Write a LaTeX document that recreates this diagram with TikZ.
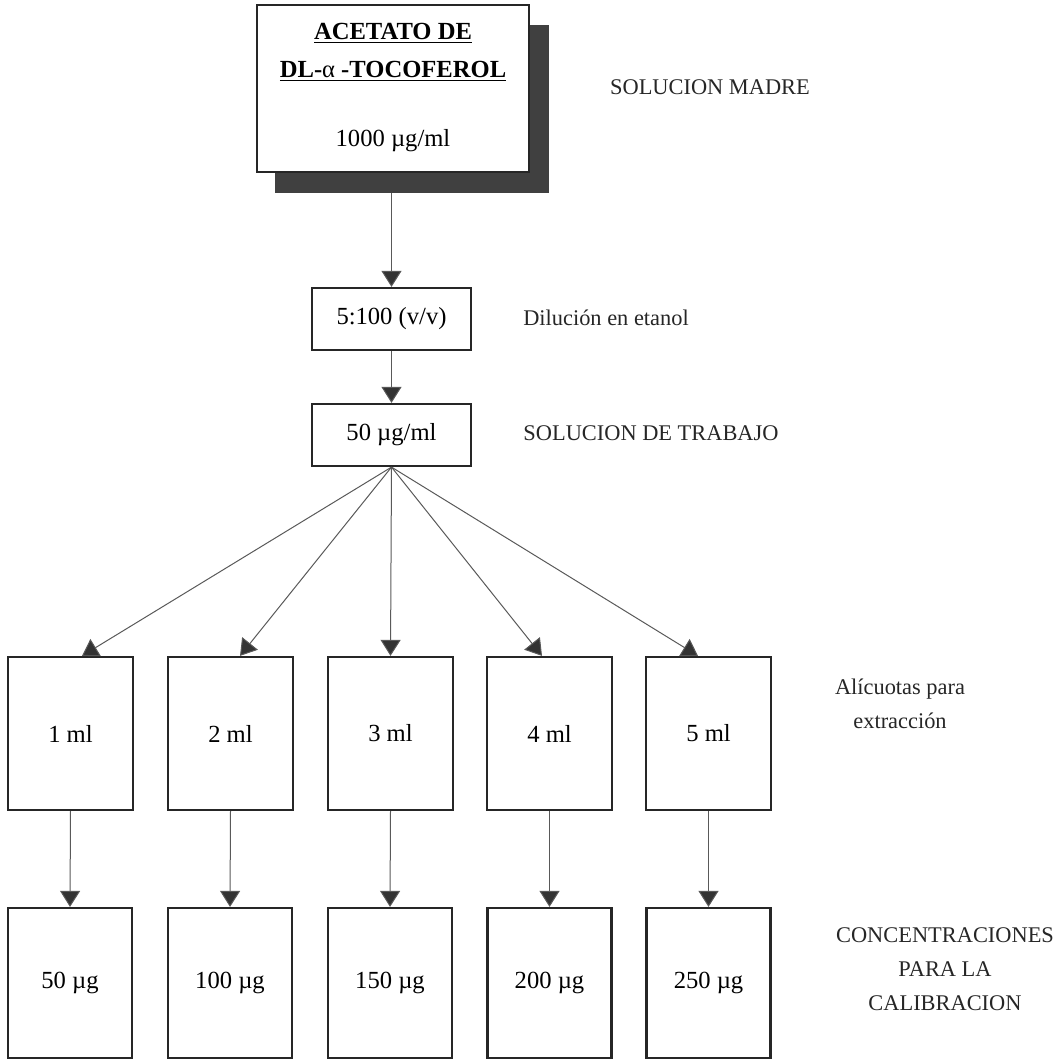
\documentclass[tikz,border=0pt]{standalone}
\usepackage{fontspec}
\setmainfont{Liberation Serif}
\usetikzlibrary{arrows.meta,calc}

\tikzset{
  box/.style={draw=black!85, line width=1.1pt, fill=white, inner sep=0pt,
    font=\fontsize{12.3}{14}\selectfont},
  rowbox/.style={box, minimum width=62.5pt, minimum height=76.5pt},
  lowbox/.style={box, minimum width=62pt, minimum height=75pt},
  midbox/.style={box, minimum width=79.5pt, minimum height=31pt},
  label/.style={align=center, inner sep=0pt, text=black!85,
    font=\fontsize{11.2}{17}\selectfont},
  flow/.style={draw=black!65, line width=0.5pt,
    -{Triangle[width=10pt,length=8pt,fill=black!80]}},
  shade/.style={fill=black!75, draw=none, inner sep=0pt}
}

\begin{document}
\begin{tikzpicture}[x=0.5pt, y=-0.5pt]
  \useasboundingbox (0,0) rectangle (1058,1064);

  % stock solution box with its drop shadow
  \node[shade, minimum width=137pt, minimum height=84pt] (topshadow) at (412,109) {};
  \node[box, minimum width=136pt, minimum height=83.5pt] (top) at (393,88.5) {};
  \node[font=\bfseries\fontsize{12.3}{14}\selectfont, inner sep=0pt] (t1) at (393,33) {\underline{ACETATO DE}};
  \node[font=\bfseries\fontsize{12.3}{14}\selectfont, inner sep=0pt] (t2) at (393,71) {\underline{DL-\mdseries α\bfseries\ -TOCOFEROL}};
  \node[font=\fontsize{12.3}{14}\selectfont, inner sep=0pt] (t3) at (393,141) {1000 µg/ml};

  % dilution and working solution
  \node[midbox] (dil) at (391.5,319) {5:100 (v/v)};
  \node[midbox] (work) at (391.5,435) {50 µg/ml};

  % aliquots
  \node[rowbox] (a1) at (70.5,733.5) {1 ml};
  \node[rowbox] (a2) at (230.5,733.5) {2 ml};
  \node[rowbox] (a3) at (390.5,733.5) {3 ml};
  \node[rowbox] (a4) at (549.5,733.5) {4 ml};
  \node[rowbox] (a5) at (708.5,733.5) {5 ml};

  % calibration amounts
  \node[lowbox] (c1) at (70,983) {50 µg};
  \node[lowbox] (c2) at (230,983) {100 µg};
  \node[lowbox] (c3) at (390,983) {150 µg};
  \node[lowbox] (c4) at (549.5,983) {200 µg};
  \node[lowbox] (c5) at (708.5,983) {250 µg};

  % side labels
  \node[label] (l1) at (710,87) {SOLUCION MADRE};
  \node[label] (l2) at (606,318) {Dilución en etanol};
  \node[label] (l3) at (651,433) {SOLUCION DE TRABAJO};
  \node[label] (l4) at (900,704) {Alícuotas para\\extracción};
  \node[label] (l5) at (945,969) {CONCENTRACIONES\\PARA LA\\CALIBRACION};

  % connectors
  \draw[flow] (dil.north |- topshadow.south) -- (dil.north);
  \draw[flow] (dil) -- (work);
  \draw[flow] (work.south) -- ($(a1.north)+(11.5,0)$);
  \draw[flow] (work.south) -- ($(a2.north)+(9.5,0)$);
  \draw[flow] (work.south) -- (a3.north);
  \draw[flow] (work.south) -- ($(a4.north)+(-7.5,0)$);
  \draw[flow] (work.south) -- ($(a5.north)+(-10.5,0)$);
  \foreach \i in {1,...,5}{
    \draw[flow] (a\i.south) -- (c\i.north);
  }
\end{tikzpicture}
\end{document}
